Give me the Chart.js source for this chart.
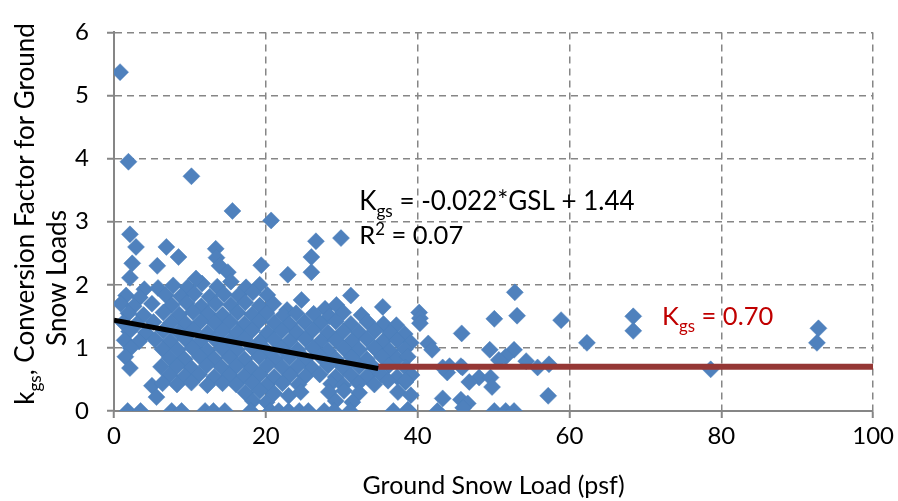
<!DOCTYPE html>
<html lang="en">
<head>
<meta charset="UTF-8">
<title>Kgs vs Ground Snow Load</title>
<script src="https://cdn.jsdelivr.net/npm/chart.js"></script>
<style>
  html, body { margin: 0; padding: 0; background: #fff; }
</style>
</head>
<body>
<canvas id="myChart" width="898" height="501"></canvas>
<script>
// observed points [ground snow load (psf), kgs]
const upperPoints = [
  [0.8,5.37],[1.9,3.95],[10.2,3.72],[15.6,3.17],[20.7,3.02],[29.9,2.74],[26.6,2.69],[26.0,2.44],
  [26.0,2.2],[22.9,2.16],[19.4,2.31],[13.4,2.57],[13.5,2.43],[13.9,2.3],[15.0,2.2],[2.1,2.8],
  [2.9,2.6],[6.9,2.6],[8.5,2.44],[2.4,2.34],[5.7,2.3],[2.1,2.11],[4.0,1.93]
];
const densePoints = [
  [5.8,1.95],[7.8,1.99],[9.7,1.96],[11.6,2.02],[13.6,1.97],[15.4,2.05],[17.4,1.96],[19.2,2.0],[10.8,2.1],
  [1.6,1.83],[3.4,1.8],[6.8,1.84],[8.8,1.82],[10.6,1.86],[12.6,1.81],[14.5,1.85],[16.4,1.83],[18.3,1.88],[20.2,1.84],
  [0.9,1.7],[2.6,1.66],[5.0,1.7],[7.6,1.68],[9.6,1.71],[11.5,1.66],[13.4,1.7],[15.4,1.68],[17.3,1.72],[19.2,1.67],
  [21.0,1.7],[22.8,1.6],[24.7,1.76],[27.8,1.62],[29.3,1.68],[31.2,1.83],[35.4,1.65],
  [1.9,1.55],[3.9,1.52],[6.5,1.56],[8.6,1.53],[10.4,1.57],[12.4,1.54],[14.3,1.52],[16.3,1.56],[18.2,1.53],[20.1,1.55],
  [22.3,1.52],[24.0,1.55],[26.3,1.54],[28.4,1.5],[30.2,1.56],[32.6,1.52],
  [1.2,1.4],[3.0,1.38],[5.2,1.41],[7.5,1.4],[9.5,1.38],[11.4,1.42],[13.3,1.39],[15.3,1.41],[17.2,1.38],[19.1,1.42],
  [21.1,1.4],[23.1,1.38],[25.1,1.41],[27.2,1.39],[29.2,1.42],[31.2,1.38],[33.4,1.41],[35.5,1.38],[37.2,1.36],
  [2.0,1.26],[4.2,1.24],[6.5,1.27],[8.5,1.25],[10.4,1.28],[12.3,1.24],[14.3,1.27],[16.2,1.25],[18.2,1.28],[20.2,1.24],
  [22.1,1.27],[24.1,1.25],[26.2,1.28],[28.2,1.24],[30.2,1.26],[32.3,1.25],[34.4,1.27],[36.4,1.24],[38.3,1.22],
  [1.4,1.12],[3.3,1.1],[5.4,1.13],[7.4,1.11],[9.4,1.14],[11.3,1.1],[13.3,1.13],[15.2,1.11],[17.2,1.14],[19.2,1.1],
  [21.1,1.13],[23.1,1.11],[25.2,1.14],[27.2,1.1],[29.2,1.12],[31.3,1.11],[33.3,1.14],[35.4,1.1],[37.3,1.12],[39.1,1.08],
  [2.2,1.0],[6.4,0.98],[8.4,0.97],[10.3,1.0],[12.3,0.96],[14.2,0.99],[16.2,0.97],[18.2,1.0],[20.1,0.96],
  [22.1,0.99],[24.2,0.97],[26.2,1.0],[28.2,0.96],[30.3,0.99],[32.3,0.97],[34.3,1.0],[36.3,0.96],[38.3,0.98],
  [1.5,0.86],[7.3,0.84],[9.3,0.82],[11.3,0.86],[13.2,0.83],[15.2,0.85],[17.2,0.82],[19.1,0.86],[21.2,0.83],
  [23.1,0.85],[25.2,0.82],[27.2,0.86],[29.2,0.83],[31.3,0.85],[33.3,0.82],[35.3,0.86],[37.3,0.83],[38.7,0.86],
  [2.1,0.68],[6.2,0.7],[8.3,0.71],[10.2,0.68],[12.2,0.72],[14.2,0.69],[16.1,0.71],[18.1,0.68],[20.2,0.72],
  [22.2,0.69],[24.2,0.71],[26.1,0.68],[28.2,0.72],[30.2,0.69],[32.3,0.71],[34.3,0.68],[36.2,0.72],[38.4,0.69],
  [7.3,0.57],[9.3,0.55],[11.2,0.58],[13.2,0.54],[15.2,0.57],[17.1,0.55],[19.2,0.58],[21.1,0.54],[23.2,0.57],
  [25.2,0.55],[27.1,0.58],[29.2,0.54],[31.2,0.57],[33.3,0.55],[35.2,0.58],[37.3,0.54],[39.2,0.57],
  [5.0,0.4],[6.4,0.44],[8.3,0.42],[10.2,0.45],[12.3,0.41],[14.3,0.44],[16.1,0.42],[18.2,0.45],[20.1,0.41],
  [22.2,0.44],[24.3,0.42],[28.6,0.43],[30.2,0.41],[32.2,0.44],[34.3,0.42],[36.1,0.48],[38.4,0.46],
  [5.6,0.22],[17.3,0.29],[19.2,0.32],[21.1,0.28],[23.0,0.24],[24.6,0.3],[28.3,0.3],[30.3,0.32],[32.3,0.29],[37.4,0.3],
  [18.3,0.16],[20.1,0.14],[29.2,0.16],[31.4,0.14],[39.1,0.25],
  [1.8,0],[3.5,0],[7.6,0],[8.9,0],[12.0,0],[13.1,0],[14.6,0],[18.0,0],[20.6,0],[21.7,0],[23.0,0],[24.4,0],
  [25.6,0],[27.7,0],[29.0,0],[31.1,0],[36.8,0],[38.8,0]
];
const rightPoints = [
  [40.2,1.56],[40.3,1.47],[40.3,1.39],[41.4,1.07],[41.9,0.97],[45.8,1.23],[50.1,1.46],[53.1,1.51],
  [52.8,1.88],[58.9,1.44],[62.3,1.08],[68.4,1.5],[68.4,1.27],[78.6,0.66],[92.8,1.31],[92.6,1.08],
  [49.5,0.97],[52.7,0.97],[51.6,0.86],[50.7,0.81],[54.3,0.79],[55.8,0.69],[57.3,0.74],[44.2,0.71],
  [45.7,0.71],[43.9,0.61],[48.1,0.53],[49.6,0.53],[49.8,0.38],[46.8,0.46],[57.2,0.24],[43.3,0.2],
  [42.6,0],[45.7,0.18],[46.6,0.12],[46.0,0.05],[50.1,0],[51.6,0],[52.7,0],[43.3,0.69],[45.9,0.69],
  [38.4,0.48],[38.7,0.02]
];

// regression line and constant value
const fitX = [0, 34.8];
const fitY = [1.44, 0.674];
const capX = [34.8, 100];
const capY = [0.70, 0.70];

const xTicks = [0, 20, 40, 60, 80, 100];
const yTicks = [0, 1, 2, 3, 4, 5, 6];

const allPoints = upperPoints.concat(densePoints, rightPoints).map(function (p) {
  return { x: p[0], y: p[1] };
});
const fitData = fitX.map(function (v, i) { return { x: v, y: fitY[i] }; });
const capData = capX.map(function (v, i) { return { x: v, y: capY[i] }; });

const FONT = 'Lato';

// draws text with sub/superscript pieces, returns total width
function drawRich(ctx, x, y, parts, size, color, onlyMeasure) {
  let cx = x;
  ctx.save();
  ctx.fillStyle = color;
  ctx.textAlign = 'left';
  ctx.textBaseline = 'alphabetic';
  parts.forEach(function (p) {
    let fs = size, dy = 0;
    if (p[1] === 'sub') { fs = size * 0.66; dy = size * 0.27; }
    if (p[1] === 'sup') { fs = size * 0.66; dy = -size * 0.36; }
    ctx.font = fs + 'px ' + FONT;
    if (!onlyMeasure) ctx.fillText(p[0], cx, y + dy);
    cx += ctx.measureText(p[0]).width;
  });
  ctx.restore();
  return cx - x;
}

const textPlugin = {
  id: 'textPlugin',
  afterDraw(chart) {
    const ctx = chart.ctx;
    const xs = chart.scales.x, ys = chart.scales.y;

    drawRich(ctx, xs.getPixelForValue(32.3), ys.getPixelForValue(3.18),
      [['K', ''], ['gs', 'sub'], [' = -0.022*GSL + 1.44', '']], 26, '#000');
    drawRich(ctx, xs.getPixelForValue(32.3), ys.getPixelForValue(2.65),
      [['R', ''], ['2', 'sup'], [' = 0.07', '']], 25.5, '#000');
    drawRich(ctx, xs.getPixelForValue(72.2), ys.getPixelForValue(1.36),
      [['K', ''], ['gs', 'sub'], [' = 0.70', '']], 25.5, '#C00000');

    // y axis title, two rotated lines
    const line1 = [['k', ''], ['gs', 'sub'], [', Conversion Factor for Ground', '']];
    const line2 = [['Snow Loads', '']];
    [[line1, 25, 214], [line2, 57, 278]].forEach(function (l) {
      const w = drawRich(ctx, 0, 0, l[0], 26, '#000', true);
      ctx.save();
      ctx.translate(l[1] + 9, l[2]);
      ctx.rotate(-Math.PI / 2);
      drawRich(ctx, -w / 2, 0, l[0], 26, '#000');
      ctx.restore();
    });
  }
};

const gridColor = '#868686';

new Chart(document.getElementById('myChart'), {
  type: 'scatter',
  data: {
    datasets: [
      {
        type: 'line',
        data: fitData,
        borderColor: '#000000',
        borderWidth: 5,
        pointRadius: 0,
        fill: false,
        order: 0
      },
      {
        type: 'line',
        data: capData,
        borderColor: '#953735',
        borderWidth: 6,
        pointRadius: 0,
        fill: false,
        order: 1
      },
      {
        data: allPoints,
        pointStyle: 'rectRot',
        pointRadius: 8.5,
        backgroundColor: '#4F81BD',
        borderColor: '#4A7EBB',
        borderWidth: 0.5,
        order: 2
      }
    ]
  },
  options: {
    responsive: false,
    animation: false,
    layout: { padding: { top: 19, right: 22, left: 0, bottom: 0 } },
    plugins: {
      legend: { display: false },
      tooltip: { enabled: false }
    },
    scales: {
      x: {
        type: 'linear',
        min: 0,
        max: 100,
        afterBuildTicks: function (s) { s.ticks = xTicks.map(function (v) { return { value: v }; }); },
        afterFit: function (s) { s.height = 90; },
        ticks: { font: { family: FONT, size: 24 }, color: '#000', padding: 4 },
        grid: { color: gridColor, lineWidth: 1.5, tickLength: 7, tickColor: gridColor, tickWidth: 2 },
        border: { display: true, color: gridColor, width: 2, dash: [7, 5] },
        title: {
          display: true,
          text: 'Ground Snow Load (psf)',
          font: { family: FONT, size: 25 },
          color: '#000',
          padding: { top: 0, bottom: 0 }
        }
      },
      y: {
        type: 'linear',
        min: 0,
        max: 6,
        afterBuildTicks: function (s) { s.ticks = yTicks.map(function (v) { return { value: v }; }); },
        afterFit: function (s) { s.width = 114; },
        ticks: { font: { family: FONT, size: 24 }, color: '#000', padding: 18 },
        grid: { color: gridColor, lineWidth: 1.5, tickLength: 7, tickColor: gridColor, tickWidth: 2 },
        border: { display: true, color: gridColor, width: 2, dash: [7, 5] }
      }
    }
  },
  plugins: [textPlugin]
});
</script>
</body>
</html>
